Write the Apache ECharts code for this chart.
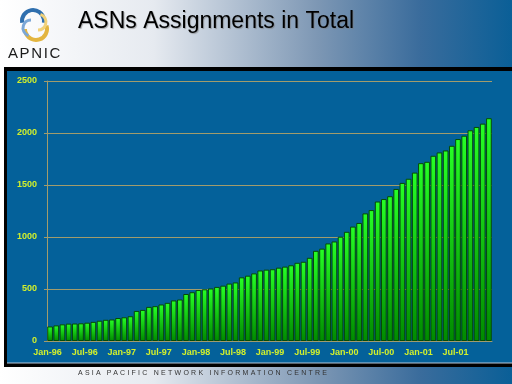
<!DOCTYPE html>
<html>
<head>
<meta charset="utf-8">
<script src="https://cdn.jsdelivr.net/npm/echarts@6/dist/echarts.min.js"></script>
<style>
html,body{margin:0;padding:0;}
#wrap{position:relative;width:512px;height:384px;overflow:hidden;}
#chart{position:absolute;left:0;top:0;width:512px;height:384px;}
#footer{position:absolute;left:78px;top:369px;font:7px "Liberation Sans",Arial,sans-serif;letter-spacing:2.25px;color:#333;white-space:nowrap;}
#logo{position:absolute;left:8px;top:44px;font:15px "Liberation Sans",Arial,sans-serif;letter-spacing:1.6px;color:#1a1a1a;white-space:nowrap;}
</style>
</head>
<body>
<div id="wrap">
<div id="chart"></div>
<div id="logo">APNIC</div>
<div id="footer">ASIA PACIFIC NETWORK INFORMATION CENTRE</div>
</div>
<script>
const months = [
  'Jan-96','Feb-96','Mar-96','Apr-96','May-96','Jun-96','Jul-96','Aug-96','Sep-96','Oct-96','Nov-96','Dec-96',
  'Jan-97','Feb-97','Mar-97','Apr-97','May-97','Jun-97','Jul-97','Aug-97','Sep-97','Oct-97','Nov-97','Dec-97',
  'Jan-98','Feb-98','Mar-98','Apr-98','May-98','Jun-98','Jul-98','Aug-98','Sep-98','Oct-98','Nov-98','Dec-98',
  'Jan-99','Feb-99','Mar-99','Apr-99','May-99','Jun-99','Jul-99','Aug-99','Sep-99','Oct-99','Nov-99','Dec-99',
  'Jan-00','Feb-00','Mar-00','Apr-00','May-00','Jun-00','Jul-00','Aug-00','Sep-00','Oct-00','Nov-00','Dec-00',
  'Jan-01','Feb-01','Mar-01','Apr-01','May-01','Jun-01','Jul-01','Aug-01','Sep-01','Oct-01','Nov-01','Dec-01'
];
const asnTotals = [
  140, 150, 160, 167, 168, 170, 176, 184, 195, 204, 207, 221,
  228, 238, 289, 299, 328, 335, 351, 367, 390, 399, 452, 469,
  490, 497, 505, 520, 532, 552, 563, 612, 628, 650, 678, 686,
  690, 705, 715, 728, 752, 762, 800, 867, 888, 938, 957, 1003,
  1050, 1100, 1135, 1227, 1259, 1341, 1365, 1392, 1462, 1520, 1560, 1619,
  1710, 1723, 1781, 1813, 1832, 1877, 1942, 1974, 2026, 2058, 2090, 2142
];
const yTicks = { min: 0, max: 2500, interval: 500 };
const titleText = 'ASNs Assignments in Total';

const chart = echarts.init(document.getElementById('chart'), null, { renderer: 'canvas' });
const labelColor = '#d2f02c';
const gridColor = '#a29c6c';

chart.setOption({
  backgroundColor: {
    type: 'linear', x: 0, y: 0, x2: 1, y2: 0,
    colorStops: [
      { offset: 0, color: '#ffffff' },
      { offset: 0.3, color: '#e6eaf0' },
      { offset: 0.62, color: '#7d97b4' },
      { offset: 0.82, color: '#3a6c9c' },
      { offset: 1, color: '#0a5f97' }
    ]
  },
  animation: false,
  graphic: [
    { type: 'rect', z: -10, silent: true, shape: { x: 4, y: 67, width: 508, height: 300 }, style: { fill: '#000000' } },
    { type: 'rect', z: -9, silent: true, shape: { x: 7, y: 71, width: 505, height: 292 }, style: { fill: '#04619a' } },
    { type: 'line', z: -8, silent: true, shape: { x1: 7, y1: 363, x2: 512, y2: 363 }, style: { stroke: '#b8c8d8', lineWidth: 1 } },
    { type: 'text', z: 10, left: 78, top: 10, style: { text: titleText, font: '23px "Liberation Sans", Arial, sans-serif', fill: '#000', textShadowColor: 'rgba(120,120,120,0.6)', textShadowOffsetX: 1, textShadowOffsetY: 1, textShadowBlur: 1 } },
    { type: 'arc', z: 10, silent: true, shape: { cx: 33, cy: 21, r: 11, startAngle: Math.PI * 0.95, endAngle: Math.PI * 2.05 }, style: { stroke: '#2f6fae', lineWidth: 4, fill: null } },
    { type: 'arc', z: 10, silent: true, shape: { cx: 36, cy: 29, r: 11, startAngle: Math.PI * -0.1, endAngle: Math.PI * 1.0 }, style: { stroke: '#e3b53f', lineWidth: 4, fill: null } },
    { type: 'arc', z: 11, silent: true, shape: { cx: 31, cy: 28, r: 8, startAngle: Math.PI * 0.6, endAngle: Math.PI * 1.5 }, style: { stroke: '#7ba7d6', lineWidth: 3, fill: null } },
    { type: 'arc', z: 11, silent: true, shape: { cx: 38, cy: 22, r: 8, startAngle: Math.PI * 1.6, endAngle: Math.PI * 2.5 }, style: { stroke: '#f1d27a', lineWidth: 3, fill: null } }
  ],
  grid: { left: 47, right: 20, top: 81, bottom: 43, containLabel: false },
  xAxis: {
    type: 'category',
    data: months,
    boundaryGap: true,
    axisLine: { show: true, lineStyle: { color: gridColor, width: 1 } },
    axisTick: { show: false },
    axisLabel: {
      interval: 5, color: labelColor, fontWeight: 'bold', fontSize: 9,
      fontFamily: '"Liberation Sans", Arial, sans-serif', margin: 7,
      padding: [0, 5, 0, 0]
    },
    splitLine: { show: false }
  },
  yAxis: {
    type: 'value',
    min: yTicks.min, max: yTicks.max, interval: yTicks.interval,
    axisLine: { show: true, lineStyle: { color: gridColor, width: 1 } },
    axisTick: { show: true, length: 3, lineStyle: { color: gridColor } },
    axisLabel: {
      color: labelColor, fontWeight: 'bold', fontSize: 9,
      fontFamily: '"Liberation Sans", Arial, sans-serif', margin: 10,
      formatter: function (v) { return String(v); }
    },
    splitLine: { show: true, lineStyle: { color: gridColor, width: 1 } }
  },
  series: [{
    type: 'bar',
    data: asnTotals,
    barCategoryGap: '8%',
    itemStyle: {
      color: {
        type: 'linear', x: 0, y: 0, x2: 0, y2: 1,
        colorStops: [
          { offset: 0, color: '#26ff26' },
          { offset: 1, color: '#008a00' }
        ]
      },
      borderColor: '#064a06',
      borderWidth: 1
    }
  }]
});
</script>
</body>
</html>
